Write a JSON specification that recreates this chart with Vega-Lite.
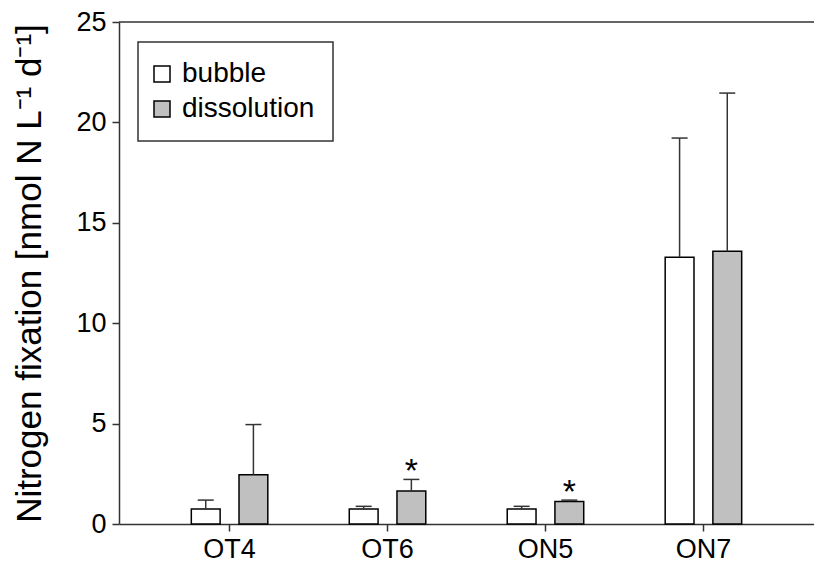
{
  "$schema": "https://vega.github.io/schema/vega-lite/v6.json",
  "autosize": "none",
  "width": 695,
  "height": 502,
  "padding": {"left": 119, "top": 22, "right": 0, "bottom": 46},
  "background": "white",
  "config": {
    "font": "Liberation Sans",
    "view": {"stroke": null},
    "axis": {"grid": false, "domainColor": "#333", "domainWidth": 1.5, "tickColor": "#333", "tickWidth": 1.5, "tickSize": 7, "labelColor": "black", "titleColor": "black", "labelFont": "Liberation Sans", "titleFont": "Liberation Sans", "titleFontWeight": "normal"}
  },
  "data": {
    "values": [
      {"site": "OT4", "method": "bubble", "value": 0.75, "err": 1.19, "sig": ""},
      {"site": "OT4", "method": "dissolution", "value": 2.45, "err": 4.95, "sig": ""},
      {"site": "OT6", "method": "bubble", "value": 0.75, "err": 0.88, "sig": ""},
      {"site": "OT6", "method": "dissolution", "value": 1.64, "err": 2.22, "sig": "*"},
      {"site": "ON5", "method": "bubble", "value": 0.75, "err": 0.88, "sig": ""},
      {"site": "ON5", "method": "dissolution", "value": 1.12, "err": 1.19, "sig": "*"},
      {"site": "ON7", "method": "bubble", "value": 13.28, "err": 19.22, "sig": ""},
      {"site": "ON7", "method": "dissolution", "value": 13.58, "err": 21.46, "sig": ""}
    ]
  },
  "layer": [
    {
      "data": {"values": [{"top": 25}]},
      "mark": {"type": "rule", "stroke": "#333", "strokeWidth": 1.5},
      "encoding": {
        "y": {"field": "top", "type": "quantitative"}
      }
    },
    {
      "encoding": {
        "x": {"field": "site", "type": "nominal", "sort": ["OT4", "OT6", "ON5", "ON7"],
          "scale": {"paddingInner": 0, "paddingOuter": 0.2},
          "axis": {"title": null, "labelAngle": 0, "labelFontSize": 27, "labelPadding": 5, "domain": true}},
        "xOffset": {"field": "method", "type": "nominal", "sort": ["bubble", "dissolution"],
          "scale": {"paddingInner": 0.396, "paddingOuter": 0.854}}
      },
      "layer": [
        {
          "mark": {"type": "bar", "stroke": "black", "strokeWidth": 1.5},
          "encoding": {
            "y": {"field": "value", "type": "quantitative",
              "scale": {"domain": [0, 25], "nice": false},
              "axis": {"values": [0, 5, 10, 15, 20, 25], "labelFontSize": 27, "labelPadding": 6,
                "title": "Nitrogen fixation [nmol N L⁻¹ d⁻¹]", "titleFontSize": 35, "titlePadding": 28}},
            "fill": {"field": "method", "type": "nominal",
              "scale": {"domain": ["bubble", "dissolution"], "range": ["white", "#c0c0c0"]},
              "legend": {"orient": "none", "legendX": 19, "legendY": 20, "title": null,
                "strokeColor": "#333", "padding": 18, "fillColor": "white",
                "symbolType": "square", "symbolSize": 256, "symbolStrokeColor": "black", "symbolStrokeWidth": 1.5,
                "symbolOffset": -8, "labelFontSize": 28, "labelColor": "black", "labelOffset": 6, "rowPadding": 7, "labelFont": "Liberation Sans",
                "encode": {"legend": {"update": {"strokeWidth": {"value": 1.5}}}}}}
          }
        },
        {
          "mark": {"type": "rule", "stroke": "#333", "strokeWidth": 1.5},
          "encoding": {
            "y": {"field": "value", "type": "quantitative"},
            "y2": {"field": "err"}
          }
        },
        {
          "mark": {"type": "tick", "orient": "horizontal", "color": "#333", "thickness": 1.5, "size": 16, "opacity": 1},
          "encoding": {
            "y": {"field": "err", "type": "quantitative"}
          }
        },
        {
          "mark": {"type": "text", "fontSize": 34, "baseline": "alphabetic", "dy": 3, "color": "black"},
          "encoding": {
            "y": {"field": "err", "type": "quantitative"},
            "text": {"field": "sig"}
          }
        }
      ]
    }
  ]
}
